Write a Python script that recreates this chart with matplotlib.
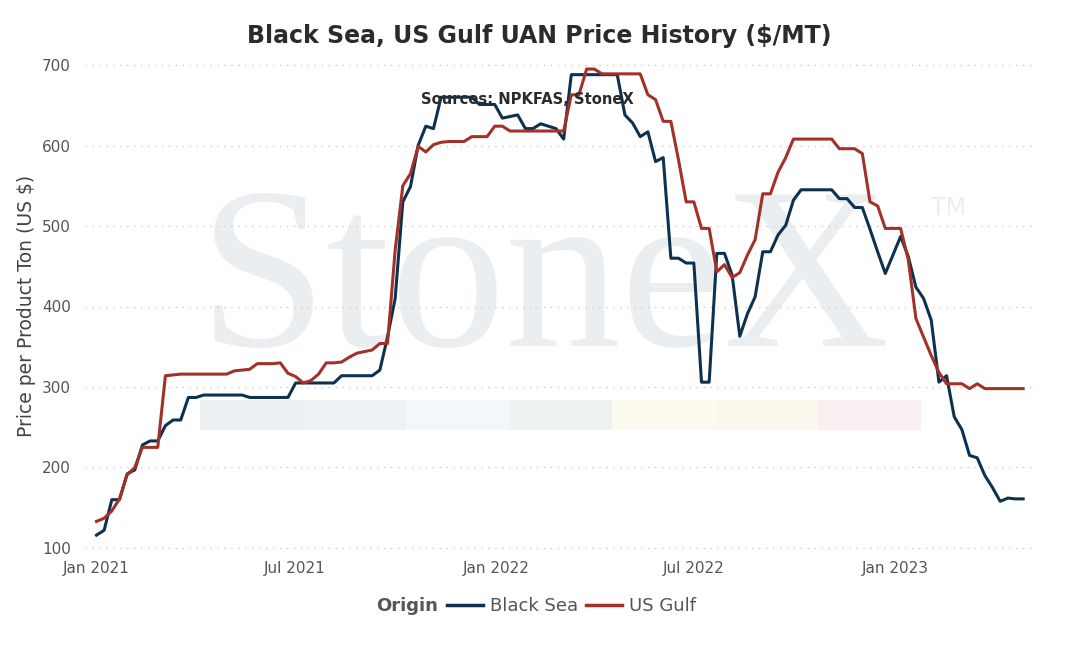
import pandas as pd
import matplotlib.pyplot as plt
import matplotlib.dates as mdates
from matplotlib.patches import Rectangle
from matplotlib.lines import Line2D

# weekly prices, first week = Jan 2021
start_week = '2021-01-01'
black_sea = [
    116, 122, 160, 160, 192, 197, 228, 233, 233, 252,
    259, 259, 287, 287, 290, 290, 290, 290, 290, 290,
    287, 287, 287, 287, 287, 287, 305, 305, 305, 305,
    305, 305, 314, 314, 314, 314, 314, 321, 362, 410,
    530, 549, 600, 624, 621, 660, 660, 660, 660, 660,
    651, 651, 651, 634, 636, 638, 621, 621, 627, 624,
    621, 608, 688, 688, 688, 688, 688, 688, 688, 638,
    628, 611, 617, 580, 585, 460, 460, 454, 454, 306,
    306, 466, 466, 439, 363, 391, 412, 468, 468, 489,
    501, 532, 545, 545, 545, 545, 545, 534, 534, 523,
    523, 496, 468, 441, 464, 487, 462, 424, 410, 383,
    306, 314, 263, 247, 215, 212, 190, 175, 158, 162,
    161, 161]
us_gulf = [
    133, 137, 146, 161, 191, 200, 225, 225, 225, 314,
    315, 316, 316, 316, 316, 316, 316, 316, 320, 321,
    322, 329, 329, 329, 330, 317, 313, 305, 308, 316,
    330, 330, 331, 337, 342, 344, 346, 354, 354, 470,
    550, 565, 599, 592, 601, 604, 605, 605, 605, 611,
    611, 611, 624, 624, 618, 618, 618, 618, 618, 618,
    618, 618, 663, 663, 695, 695, 689, 689, 689, 689,
    689, 689, 663, 657, 630, 630, 582, 530, 530, 497,
    497, 443, 452, 436, 442, 464, 483, 540, 540, 567,
    585, 608, 608, 608, 608, 608, 608, 596, 596, 596,
    590, 530, 525, 497, 497, 497, 458, 385, 362, 339,
    318, 304, 304, 304, 298, 304, 298, 298, 298, 298,
    298, 298]
series_names = ['Black Sea', 'US Gulf']
series_colors = ['#0f3150', '#a2312a']
y_ticks = [100, 200, 300, 400, 500, 600, 700]
x_ticks = ['2021-01-01', '2021-07-01', '2022-01-01', '2022-07-01', '2023-01-01']

dates = pd.date_range(start_week, periods=len(black_sea), freq='7D')

W, H = 1070, 647
fig = plt.figure(figsize=(W / 100, H / 100), dpi=100)
ax = fig.add_axes([85 / W, 1 - 549.6 / H, 948 / W, 486.2 / H])
ax.set_facecolor('none')

# StoneX watermark behind the plot
fig.text(199 / W, 1 - 346 / H, 'StoneX', family='Liberation Serif', fontsize=166,
         color='#ebeef1', ha='left', va='baseline', zorder=-2)
fig.text(931 / W, 1 - 215 / H, 'TM', fontsize=17, color='#ebeef1',
         ha='left', va='baseline', zorder=-2)
band_colors = ['#eceff2', '#eef2f5', '#f3f7fa', '#eef3f0', '#fdfbf0', '#fcf8ee', '#f9eef0']
for i, c in enumerate(band_colors):
    fig.patches.append(Rectangle(((200 + i * 103) / W, 1 - 430 / H), 103 / W, 30 / H,
                                 transform=fig.transFigure, facecolor=c,
                                 edgecolor='none', zorder=-2))

for vals, name, col in zip([black_sea, us_gulf], series_names, series_colors):
    ax.plot(dates, vals, color=col, lw=2.2, label=name, solid_joinstyle='round')

ax.set_ylim(98, 702)
ax.set_xlim(pd.Timestamp('2020-12-21 12:00'), pd.Timestamp('2023-05-07'))
ax.set_yticks(y_ticks)
ax.set_xticks(pd.to_datetime(x_ticks))
ax.xaxis.set_major_formatter(mdates.DateFormatter('%b %Y'))
ax.grid(axis='y', color='#cccccc', linestyle=(0, (1, 4)), lw=1)
ax.set_axisbelow(True)
for s in ax.spines.values():
    s.set_visible(False)
ax.tick_params(length=0, labelsize=11, colors='#555555')
ax.tick_params(axis='y', pad=10)
ax.tick_params(axis='x', pad=8)

fig.text(27 / W, 1 - 306 / H, 'Price per Product Ton (US $)', rotation=90,
         fontsize=13.5, color='#444444', ha='center', va='center')
fig.text(539 / W, 1 - 36 / H, 'Black Sea, US Gulf UAN Price History ($/MT)',
         fontsize=17, fontweight='bold', color='#2b2b2b', ha='center', va='center')
fig.text(527 / W, 1 - 100 / H, 'Sources: NPKFAS, StoneX', fontsize=10.6,
         fontweight='bold', color='#2b2b2b', ha='center', va='center')

fig.text(438 / W, 1 - 606 / H, 'Origin', fontsize=13, fontweight='bold',
         color='#555555', ha='right', va='center')
handles = [Line2D([], [], color=c, lw=2.5) for c in series_colors]
leg = fig.legend(handles, series_names, loc='center left', ncol=2,
                 bbox_to_anchor=(447 / W, 1 - 606 / H), frameon=False,
                 fontsize=13, handlelength=2.0, handletextpad=0.4,
                 columnspacing=0.4, borderpad=0, borderaxespad=0)
for t in leg.get_texts():
    t.set_color('#555555')

fig.savefig('out.png', dpi=100)
